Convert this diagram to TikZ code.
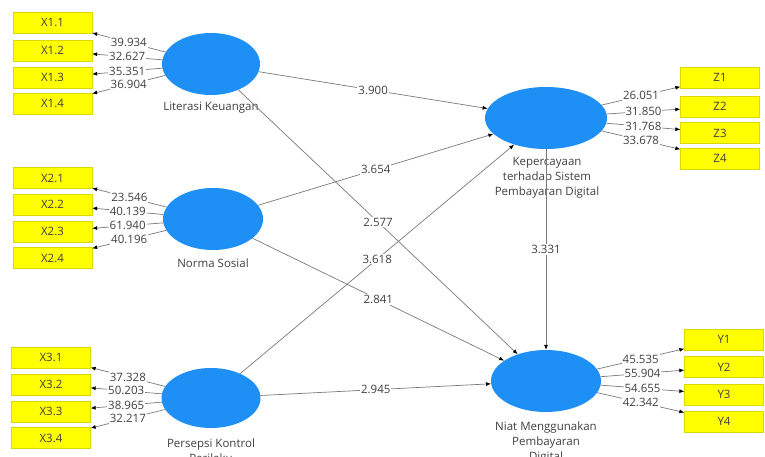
\documentclass[tikz,border=0pt]{standalone}
\usepackage{fontspec}
\setmainfont{Open Sans}
\usetikzlibrary{shapes.geometric,arrows.meta}
\definecolor{lvblue}{HTML}{1E8FF5}
\definecolor{indyel}{HTML}{FFFF00}
\definecolor{txtgray}{HTML}{404040}
\definecolor{linegray}{HTML}{7A7A7A}
\begin{document}
\begin{tikzpicture}[x=1pt,y=-1pt,
  indbox/.style={rectangle,fill=indyel,draw=indyel!85!black,line width=0.3pt,minimum width=79pt,minimum height=21pt,inner sep=0pt,font=\fontsize{11.5}{13}\selectfont,text=txtgray},
  lv/.style={ellipse,fill=lvblue,inner sep=0pt},
  lvlabel/.style={align=center,font=\fontsize{11.5}{15}\selectfont,text=txtgray},
  conn/.style={draw=linegray,line width=0.7pt,-{Latex[length=5pt,width=4pt,color=black]}},
  val/.style={midway,fill=white,inner sep=1pt,font=\fontsize{11.5}{13}\selectfont,text=txtgray}
]
\useasboundingbox (0,0) rectangle (765,457);
\fill[white] (0,0) rectangle (765,457);

% latent variables
\node[lv,minimum width=98pt,minimum height=62pt] (lit) at (211,64) {};
\node[lv,minimum width=100pt,minimum height=62pt] (nor) at (213,219) {};
\node[lv,minimum width=99pt,minimum height=60pt] (per) at (211,398) {};
\node[lv,minimum width=122pt,minimum height=62pt] (kep) at (546,118) {};
\node[lv,minimum width=110pt,minimum height=62pt] (nia) at (546,381) {};

% labels of latent variables
\node[lvlabel] (litL) at (211,108) {Literasi Keuangan};
\node[lvlabel] (norL) at (213,263) {Norma Sosial};
\node[lvlabel,anchor=north] (perL) at (211,435) {Persepsi Kontrol\\Perilaku};
\node[lvlabel] (kepL) at (547,178) {Kepercayaan\\terhadap Sistem\\Pembayaran Digital};
\node[lvlabel,anchor=north] (niaL) at (546,418) {Niat Menggunakan\\Pembayaran\\Digital};

% indicators
\node[indbox] (x11) at (52.5,22.5) {X1.1};
\node[indbox] (x12) at (52.5,50.5) {X1.2};
\node[indbox] (x13) at (52.5,77.5) {X1.3};
\node[indbox] (x14) at (52.5,103.5) {X1.4};
\node[indbox] (x21) at (52.5,178) {X2.1};
\node[indbox] (x22) at (52.5,204.5) {X2.2};
\node[indbox] (x23) at (52.5,231.5) {X2.3};
\node[indbox] (x24) at (52.5,258) {X2.4};
\node[indbox] (x31) at (51,357.5) {X3.1};
\node[indbox] (x32) at (51,384.5) {X3.2};
\node[indbox] (x33) at (51,411.5) {X3.3};
\node[indbox] (x34) at (51,438) {X3.4};
\node[indbox] (z1) at (720,77.5) {Z1};
\node[indbox] (z2) at (720,106.5) {Z2};
\node[indbox] (z3) at (720,133) {Z3};
\node[indbox] (z4) at (720,158.5) {Z4};
\node[indbox] (y1) at (724,339.5) {Y1};
\node[indbox] (y2) at (724,367) {Y2};
\node[indbox] (y3) at (724,394.5) {Y3};
\node[indbox] (y4) at (724,421.5) {Y4};

% outer loadings
\draw[conn] (lit) -- node[val]{39.934} (x11);
\draw[conn] (lit) -- node[val]{32.627} (x12);
\draw[conn] (lit) -- node[val]{35.351} (x13);
\draw[conn] (lit) -- node[val]{36.904} (x14);
\draw[conn] (nor) -- node[val]{23.546} (x21);
\draw[conn] (nor) -- node[val]{40.139} (x22);
\draw[conn] (nor) -- node[val]{61.940} (x23);
\draw[conn] (nor) -- node[val]{40.196} (x24);
\draw[conn] (per) -- node[val]{37.328} (x31);
\draw[conn] (per) -- node[val]{50.203} (x32);
\draw[conn] (per) -- node[val]{38.965} (x33);
\draw[conn] (per) -- node[val]{32.217} (x34);
\draw[conn] (kep) -- node[val]{26.051} (z1);
\draw[conn] (kep) -- node[val]{31.850} (z2);
\draw[conn] (kep) -- node[val]{31.768} (z3);
\draw[conn] (kep) -- node[val]{33.678} (z4);
\draw[conn] (nia) -- node[val]{45.535} (y1);
\draw[conn] (nia) -- node[val]{55.904} (y2);
\draw[conn] (nia) -- node[val]{54.655} (y3);
\draw[conn] (nia) -- node[val]{42.342} (y4);

% structural paths
\draw[conn] (lit) -- node[val]{3.900} (kep);
\draw[conn] (nor) -- node[val]{3.654} (kep);
\draw[conn] (lit) -- node[val]{2.577} (nia);
\draw[conn] (per) -- node[val]{3.618} (kep);
\draw[conn] (nor) -- node[val]{2.841} (nia);
\draw[conn] (per) -- node[val]{2.945} (nia);
\draw[conn] (kep) -- node[val]{3.331} (nia);
\end{tikzpicture}
\end{document}
